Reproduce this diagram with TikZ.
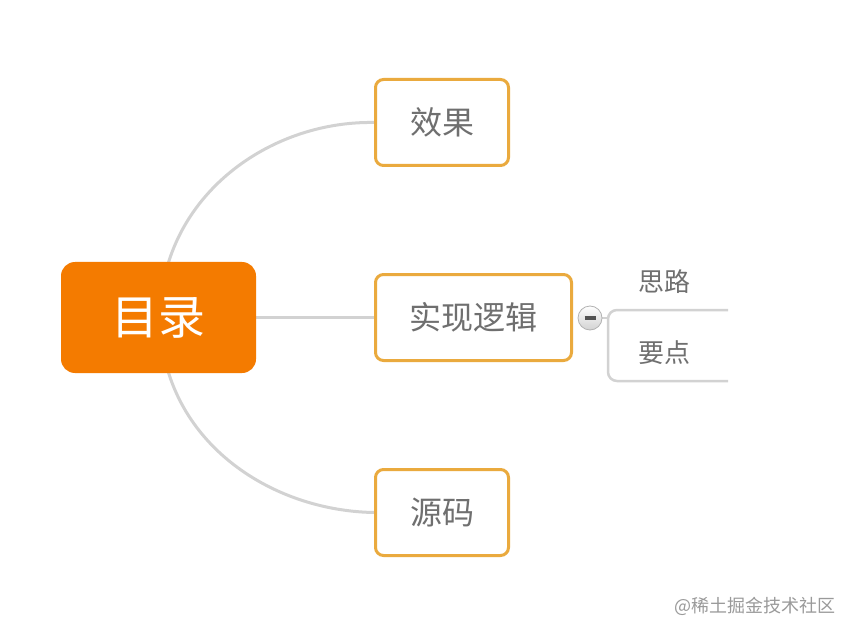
\documentclass[tikz,border=0pt]{standalone}
\usepackage{fontspec}
\usetikzlibrary{backgrounds}
\setmainfont{Noto Sans CJK SC}
\definecolor{rootfill}{HTML}{F47B00}
\definecolor{boxedge}{HTML}{EAAA3E}
\definecolor{linkgray}{HTML}{D2D2D2}
\definecolor{txtgray}{HTML}{6F6F6F}
\definecolor{wmgray}{HTML}{9A9A9A}
\tikzset{
  rootbox/.style={fill=rootfill, rounded corners=14pt, minimum width=195pt, minimum height=111pt, text=white, font=\fontsize{47}{50}\selectfont, inner sep=0pt},
  childbox/.style={draw=boxedge, line width=3pt, fill=white, rounded corners=8pt, minimum height=86pt, text=txtgray, font=\fontsize{32}{36}\selectfont, inner sep=0pt},
  link/.style={draw=linkgray, line width=3pt},
  subtxt/.style={text=txtgray, font=\fontsize{26}{30}\selectfont, inner sep=0pt},
}
\begin{document}
\begin{tikzpicture}[x=1pt,y=-1pt]
\node[rootbox] (root) at (158.5,317.5) {目录};
\node[childbox, minimum width=133pt] (n1) at (442,122.5) {效果};
\node[childbox, minimum width=196pt] (n2) at (473.5,317.5) {实现逻辑};
\node[childbox, minimum width=133pt] (n3) at (442,512.5) {源码};
\node[circle, minimum size=24pt, inner sep=0pt, draw=linkgray!85!black, line width=0.8pt, top color=white, bottom color=linkgray] (btn) at (590,318) {};
\draw[line width=3.2pt, draw=txtgray!75!black] ([xshift=-5.5pt]btn.center) -- ([xshift=5.5pt]btn.center);
\node[subtxt] (t1) at (664,282) {思路};
\node[subtxt] (t2) at (664,353) {要点};
\node[text=wmgray, font=\fontsize{18}{20}\selectfont, inner sep=0pt, anchor=east] (wm) at (836,606) {@稀土掘金技术社区};
\coordinate (rt) at (168,264);
\coordinate (rb) at (168,371);
\coordinate (bt) at (728,310);
\coordinate (bb) at (728,381);
\coordinate (bl) at (608,318);
\begin{scope}[on background layer]
\fill[white] (0,0) rectangle (856,636);
\path[link] (rt) .. controls (195,175) and (285,121) .. (n1.west);
\path[link] (rb) .. controls (195,460) and (285,511) .. (n3.west);
\path[link] (root.east) -- (n2.west);
\path[link, line width=2.5pt] (btn.east) -- (bl);
\path[link, line width=2.5pt, rounded corners=9pt] (bt) -- (608,310) -- (608,381) -- (bb);
\end{scope}
\useasboundingbox (0,0) rectangle (856,636);
\end{tikzpicture}
\end{document}
